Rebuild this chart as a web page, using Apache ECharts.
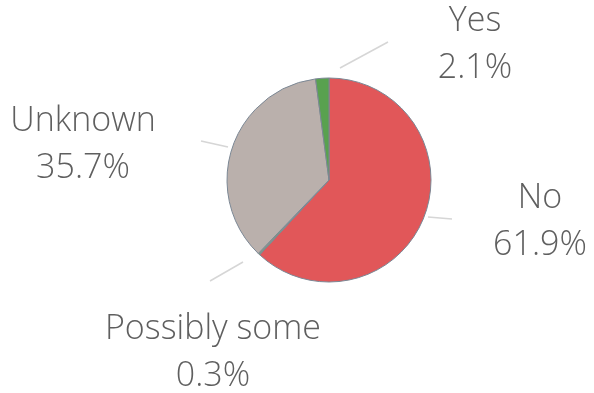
<!DOCTYPE html>
<html>
<head>
    <meta charset="UTF-8">
    <title>Pie</title>
    <script src="https://cdn.jsdelivr.net/npm/echarts@6/dist/echarts.min.js"></script>
    <style>
        html, body { margin: 0; padding: 0; background: #fff; }
    </style>
</head>
<body>
    <div id="pie" style="width:594px; height:393px;"></div>
    <script>
        // slice data, clockwise from 12 o'clock
        var names = ['No', 'Possibly some', 'Unknown', 'Yes'];
        var values = [61.9, 0.3, 35.7, 2.1];
        var colors = ['#E15759', '#7F9C83', '#BAB0AC', '#59A14F'];

        // where each label sits (centre of text block)
        var labelPos = [[540, 222], [213, 353], [83, 145], [475, 45]];

        var chart = echarts.init(document.getElementById('pie'), null, {renderer: 'canvas'});

        var data = names.map(function (n, i) {
            return {name: n, value: values[i], itemStyle: {color: colors[i]}};
        });

        chart.setOption({
            animation: false,
            series: [{
                type: 'pie',
                center: [329, 180],
                radius: 102,
                startAngle: 90,
                clockwise: true,
                data: data,
                itemStyle: {borderColor: '#7b8794', borderWidth: 1},
                label: {
                    show: true,
                    formatter: function (p) { return p.name + '\n' + p.value.toFixed(1) + '%'; },
                    fontFamily: 'Open Sans',
                    fontWeight: 300,
                    fontSize: 34,
                    lineHeight: 47,
                    color: '#5f5f5f',
                    align: 'center',
                    overflow: 'none',
                    width: 300
                },
                labelLine: {show: false},
                labelLayout: function (p) {
                    var pos = labelPos[p.dataIndex];
                    return {x: pos[0], y: pos[1], align: 'center', verticalAlign: 'middle'};
                },
                emphasis: {disabled: true}
            }],
            graphic: [
                {type: 'line', shape: {x1: 340, y1: 68, x2: 388, y2: 42}, style: {stroke: '#d6d6d6', lineWidth: 1.5}},
                {type: 'line', shape: {x1: 428, y1: 217, x2: 452, y2: 219}, style: {stroke: '#d6d6d6', lineWidth: 1.5}},
                {type: 'line', shape: {x1: 201, y1: 141, x2: 228, y2: 147}, style: {stroke: '#d6d6d6', lineWidth: 1.5}},
                {type: 'line', shape: {x1: 210, y1: 281, x2: 243, y2: 262}, style: {stroke: '#d6d6d6', lineWidth: 1.5}}
            ]
        });
    </script>
</body>
</html>
